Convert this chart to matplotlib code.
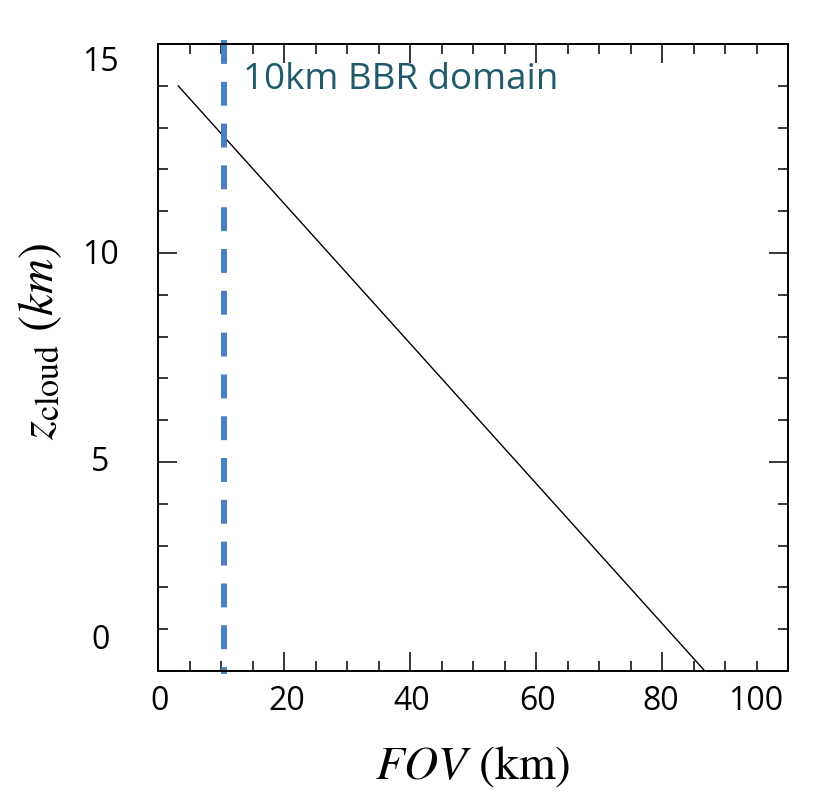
import numpy as np
import matplotlib
matplotlib.use("Agg")
import matplotlib.pyplot as plt
from matplotlib.ticker import MultipleLocator

plt.rcParams['mathtext.fontset'] = 'stix'

# line FOV vs cloud height
fov = [3.2, 86.8]
z_cloud = [14.0, 0.0]

# BBR domain marker
bbr_fov = 10.5
bbr_label = "10km BBR domain"

# tick labels as they sit in the picture
ylab_pos = [14.55, 9.95, 4.98, 0.74]
ylab_txt = ["15", "10", "5", "0"]
xlab_pos = [0.3, 20.4, 40.2, 60.3, 79.8, 94.9]
xlab_txt = ["0", "20", "40", "60", "80", "100"]

fig = plt.figure(figsize=(8.15, 7.92), dpi=100)
ax = fig.add_axes([0.1939, 0.1528, 0.7730, 0.7916])

ax.plot(fov, z_cloud, color='black', lw=1.0)
ax.plot([bbr_fov, bbr_fov], [15.1, -0.07], color='#4a7fc1', lw=4.3,
        dashes=(4, 3), clip_on=False, solid_capstyle='butt', dash_capstyle='butt')
ax.text(13.5, 14.15, bbr_label, color='#215a6b', fontsize=26.5, family='Open Sans',
        va='center', ha='left')

ax.set_xlim(0, 100)
ax.set_ylim(0, 15)

ax.xaxis.set_major_locator(MultipleLocator(20))
ax.xaxis.set_minor_locator(MultipleLocator(5))
ax.yaxis.set_major_locator(MultipleLocator(5))
ax.yaxis.set_minor_locator(MultipleLocator(1))
ax.set_xticklabels([])
ax.set_yticklabels([])

for v, t in zip(ylab_pos, ylab_txt):
    ax.text(-0.092, v, t, ha='center', va='center', family='Open Sans',
            fontsize=23, transform=ax.get_yaxis_transform())
for v, t in zip(xlab_pos, xlab_txt):
    ax.text(v, -0.048, t, ha='center', va='center', family='Open Sans',
            fontsize=23, transform=ax.get_xaxis_transform())

ax.tick_params(which='major', direction='in', length=14, width=1.1,
               top=True, right=True)
ax.tick_params(which='minor', direction='in', length=7, width=1.1,
               top=True, right=True)

for s in ax.spines.values():
    s.set_linewidth(1.4)

ax.set_xlabel(r"$FOV$ (km)", family='STIXGeneral', fontsize=34)
ax.xaxis.set_label_coords(0.5, -0.117)
ax.set_ylabel(r"$z_{\mathrm{cloud}}\ (km)$", fontsize=35)
ax.yaxis.set_label_coords(-0.15, 0.526)

fig.savefig("out.png", dpi=100)
